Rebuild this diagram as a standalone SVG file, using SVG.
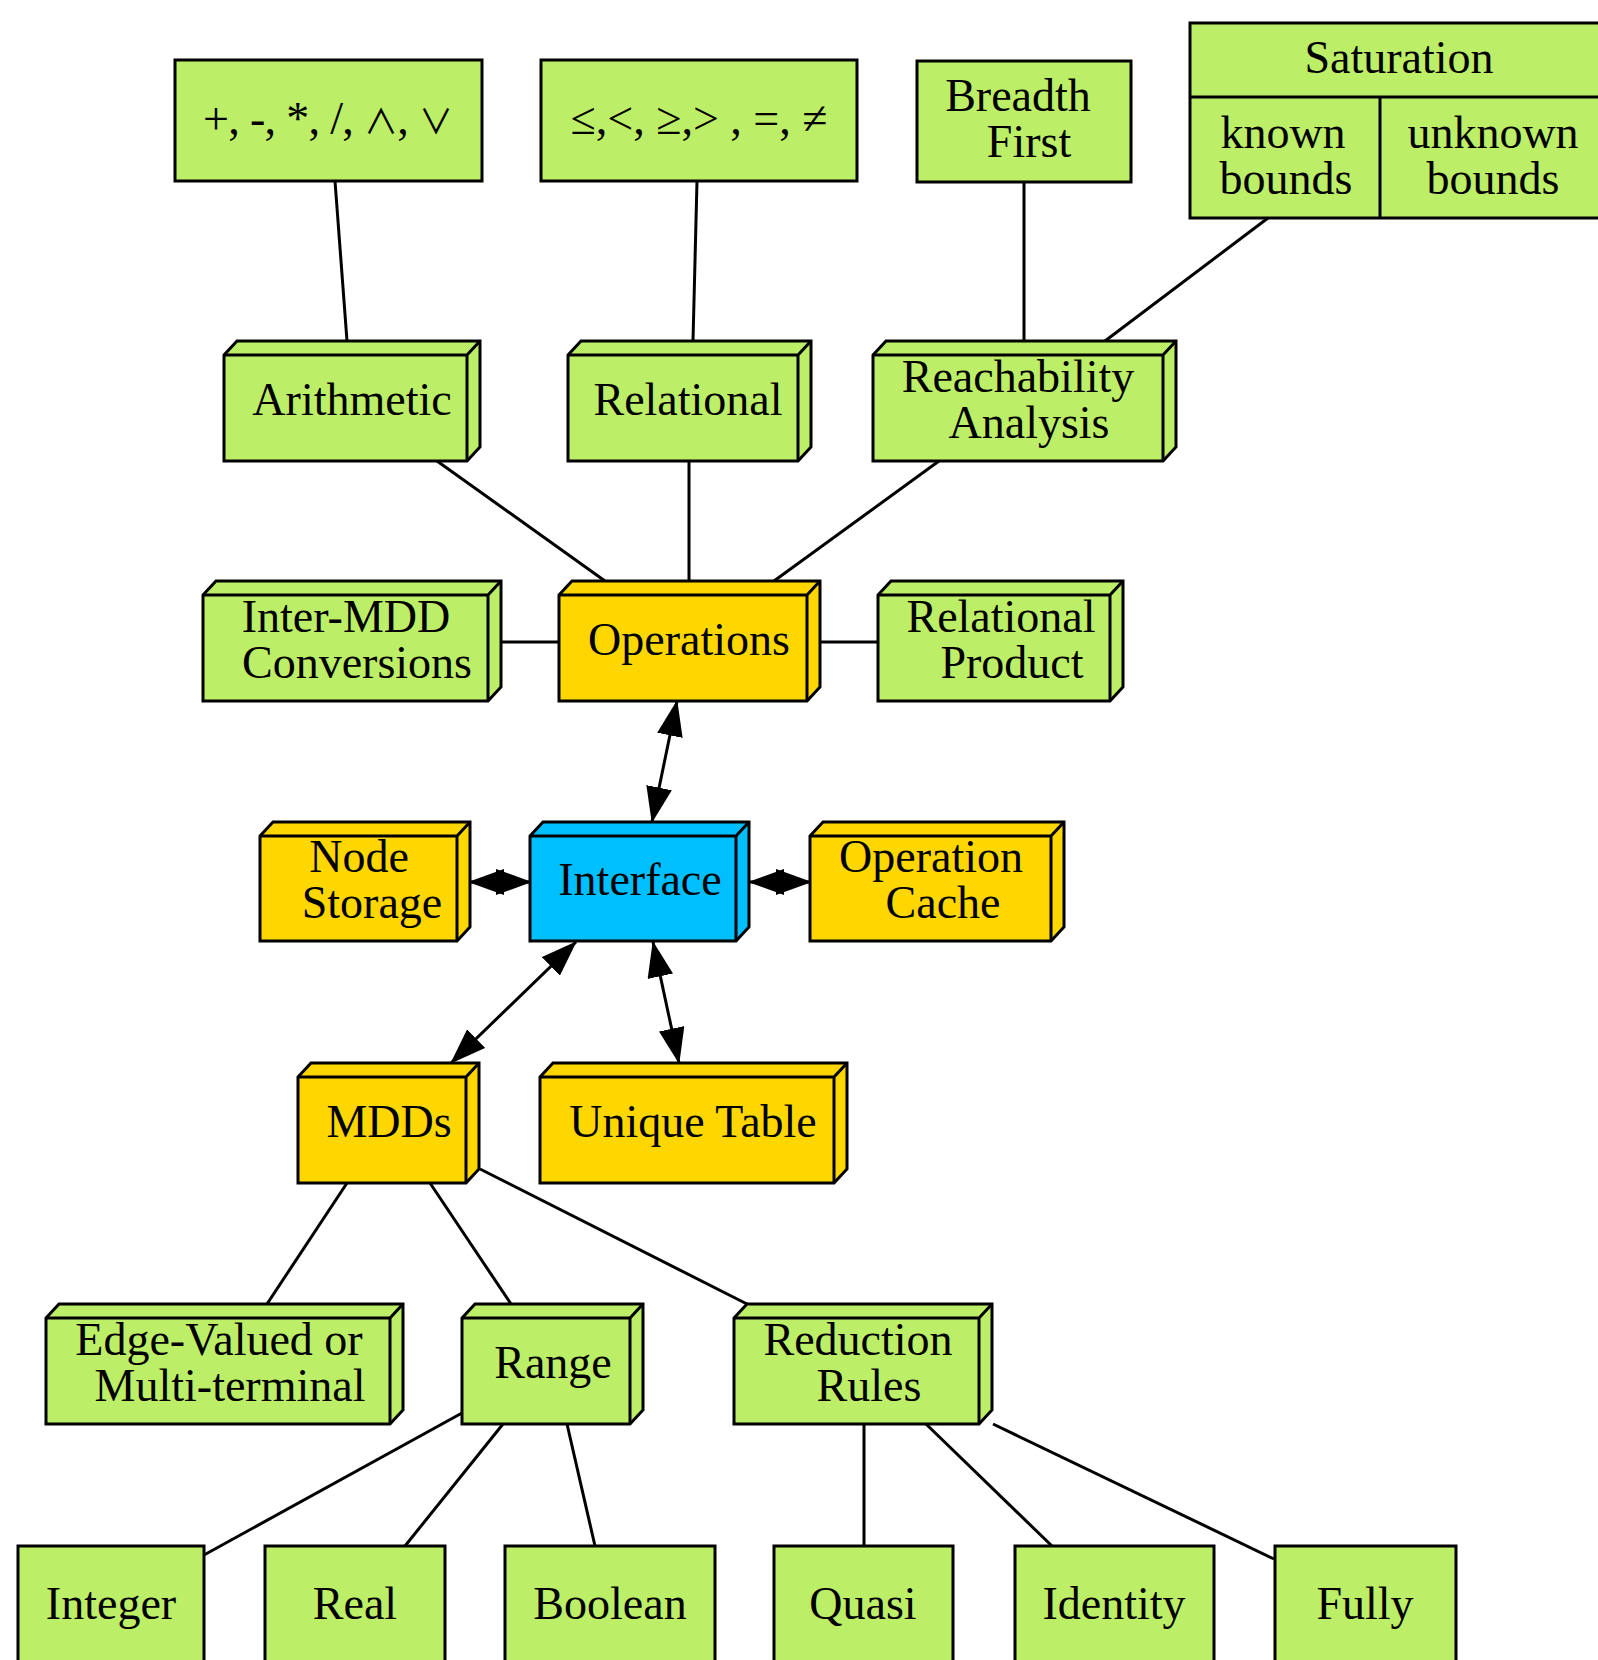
<svg xmlns="http://www.w3.org/2000/svg" width="1598" height="1660" viewBox="0 0 1598 1660">
<style>
.g{fill:#bcee68;stroke:#000;stroke-width:3;stroke-linejoin:miter}
.y{fill:#ffd700;stroke:#000;stroke-width:3;stroke-linejoin:miter}
.b{fill:#00bfff;stroke:#000;stroke-width:3;stroke-linejoin:miter}
.e{fill:none;stroke:#000;stroke-width:3}
.ln{fill:none;stroke:#000;stroke-width:3}
text{font-family:"Liberation Serif","DejaVu Serif",serif;font-size:46px;fill:#000;text-anchor:middle}
.sym{font-family:"Noto Sans CJK JP","DejaVu Sans",sans-serif;font-size:34px}
</style>
<defs>
<marker id="ah" markerUnits="userSpaceOnUse" markerWidth="36" markerHeight="26" refX="35" refY="13" orient="auto-start-reverse" viewBox="0 0 36 26">
<path d="M0,0 L36,13 L0,26 Z" fill="#000"/>
</marker>
</defs>
<rect width="1598" height="1660" fill="#fff"/>

<g id="connectors">
<line class="ln" x1="335" y1="181" x2="347" y2="341"/>
<line class="ln" x1="697" y1="181" x2="693" y2="341"/>
<line class="ln" x1="1024" y1="181" x2="1024" y2="341"/>
<line class="ln" x1="1268" y1="218" x2="1105" y2="341"/>
<line class="ln" x1="437" y1="461" x2="605" y2="581"/>
<line class="ln" x1="689" y1="461" x2="689" y2="581"/>
<line class="ln" x1="939" y1="461" x2="774" y2="581"/>
<line class="ln" x1="501" y1="642" x2="559" y2="642"/>
<line class="ln" x1="820" y1="642" x2="878" y2="642"/>
<line class="ln" x1="677" y1="701" x2="652" y2="822" marker-start="url(#ah)" marker-end="url(#ah)"/>
<line class="ln" x1="469" y1="882" x2="531" y2="882" marker-start="url(#ah)" marker-end="url(#ah)"/>
<line class="ln" x1="749" y1="882" x2="811" y2="882" marker-start="url(#ah)" marker-end="url(#ah)"/>
<line class="ln" x1="576" y1="942" x2="451" y2="1063" marker-start="url(#ah)" marker-end="url(#ah)"/>
<line class="ln" x1="653" y1="942" x2="679" y2="1063" marker-start="url(#ah)" marker-end="url(#ah)"/>
<line class="ln" x1="347" y1="1183" x2="267" y2="1304"/>
<line class="ln" x1="430" y1="1183" x2="511" y2="1304"/>
<line class="ln" x1="480" y1="1169" x2="747" y2="1304"/>
<line class="ln" x1="462" y1="1413" x2="204" y2="1555"/>
<line class="ln" x1="503" y1="1424" x2="405" y2="1546"/>
<line class="ln" x1="567" y1="1424" x2="595" y2="1546"/>
<line class="ln" x1="864" y1="1424" x2="864" y2="1546"/>
<line class="ln" x1="926" y1="1424" x2="1052" y2="1546"/>
<line class="ln" x1="993" y1="1424" x2="1274" y2="1559"/>
</g>

<g id="n_arith_ops">
<rect class="g" x="175" y="60" width="307" height="121"/>
<text x="328" y="134" textLength="250" lengthAdjust="spacing">+, -, *, /, <tspan class="sym">∧</tspan>, <tspan class="sym">∨</tspan></text>
</g>
<g id="n_rel_ops">
<rect class="g" x="541" y="60" width="316" height="121"/>
<text x="699" y="134">≤,&lt;, ≥,&gt; , =, ≠</text>
</g>
<g id="n_breadth">
<rect class="g" x="917" y="61" width="214" height="121"/>
<text x="1018" y="111">Breadth</text>
<text x="1029" y="157">First</text>
</g>
<g id="n_saturation">
<rect class="g" x="1190" y="23" width="412" height="195"/>
<line class="e" x1="1190" y1="97" x2="1602" y2="97"/>
<line class="e" x1="1380" y1="97" x2="1380" y2="218"/>
<text x="1399" y="73">Saturation</text>
<text x="1283" y="148">known</text>
<text x="1286" y="194">bounds</text>
<text x="1493" y="148">unknown</text>
<text x="1493" y="194">bounds</text>
</g>

<g id="n_arithmetic">
<path class="g" d="M224,355 L237,341 L480,341 L480,447 L467,461 L224,461 Z"/>
<path class="e" d="M224,355 L467,355 L480,341 M467,355 L467,461"/>
<text x="352" y="415">Arithmetic</text>
</g>
<g id="n_relational">
<path class="g" d="M568,355 L581,341 L811,341 L811,447 L798,461 L568,461 Z"/>
<path class="e" d="M568,355 L798,355 L811,341 M798,355 L798,461"/>
<text x="688" y="415">Relational</text>
</g>
<g id="n_reach">
<path class="g" d="M873,355 L886,341 L1176,341 L1176,447 L1163,461 L873,461 Z"/>
<path class="e" d="M873,355 L1163,355 L1176,341 M1163,355 L1163,461"/>
<text x="1018" y="392">Reachability</text>
<text x="1029" y="438">Analysis</text>
</g>

<g id="n_intermdd">
<path class="g" d="M203,595 L216,581 L501,581 L501,687 L488,701 L203,701 Z"/>
<path class="e" d="M203,595 L488,595 L501,581 M488,595 L488,701"/>
<text x="346" y="632">Inter-MDD</text>
<text x="357" y="678">Conversions</text>
</g>
<g id="n_operations">
<path class="y" d="M559,595 L572,581 L820,581 L820,687 L807,701 L559,701 Z"/>
<path class="e" d="M559,595 L807,595 L820,581 M807,595 L807,701"/>
<text x="689" y="655">Operations</text>
</g>
<g id="n_relprod">
<path class="g" d="M878,595 L891,581 L1123,581 L1123,687 L1110,701 L878,701 Z"/>
<path class="e" d="M878,595 L1110,595 L1123,581 M1110,595 L1110,701"/>
<text x="1001" y="632">Relational</text>
<text x="1012" y="678">Product</text>
</g>

<g id="n_nodestorage">
<path class="y" d="M260,836 L273,822 L470,822 L470,927 L457,941 L260,941 Z"/>
<path class="e" d="M260,836 L457,836 L470,822 M457,836 L457,941"/>
<text x="359" y="872">Node</text>
<text x="372" y="918">Storage</text>
</g>
<g id="n_interface">
<path class="b" d="M530,836 L543,822 L749,822 L749,927 L736,941 L530,941 Z"/>
<path class="e" d="M530,836 L736,836 L749,822 M736,836 L736,941"/>
<text x="640" y="895">Interface</text>
</g>
<g id="n_opcache">
<path class="y" d="M810,836 L823,822 L1064,822 L1064,927 L1051,941 L810,941 Z"/>
<path class="e" d="M810,836 L1051,836 L1064,822 M1051,836 L1051,941"/>
<text x="931" y="872">Operation</text>
<text x="943" y="918">Cache</text>
</g>

<g id="n_mdds">
<path class="y" d="M298,1077 L311,1063 L479,1063 L479,1169 L466,1183 L298,1183 Z"/>
<path class="e" d="M298,1077 L466,1077 L479,1063 M466,1077 L466,1183"/>
<text x="389" y="1137">MDDs</text>
</g>
<g id="n_unique">
<path class="y" d="M540,1077 L553,1063 L847,1063 L847,1169 L834,1183 L540,1183 Z"/>
<path class="e" d="M540,1077 L834,1077 L847,1063 M834,1077 L834,1183"/>
<text x="693" y="1137">Unique Table</text>
</g>

<g id="n_edgevalued">
<path class="g" d="M46,1318 L59,1304 L403,1304 L403,1410 L390,1424 L46,1424 Z"/>
<path class="e" d="M46,1318 L390,1318 L403,1304 M390,1318 L390,1424"/>
<text x="219" y="1355">Edge-Valued or</text>
<text x="230" y="1401">Multi-terminal</text>
</g>
<g id="n_range">
<path class="g" d="M462,1318 L475,1304 L643,1304 L643,1410 L630,1424 L462,1424 Z"/>
<path class="e" d="M462,1318 L630,1318 L643,1304 M630,1318 L630,1424"/>
<text x="553" y="1378">Range</text>
</g>
<g id="n_reduction">
<path class="g" d="M734,1318 L747,1304 L992,1304 L992,1410 L979,1424 L734,1424 Z"/>
<path class="e" d="M734,1318 L979,1318 L992,1304 M979,1318 L979,1424"/>
<text x="858" y="1355">Reduction</text>
<text x="869" y="1401">Rules</text>
</g>

<g id="n_integer">
<rect class="g" x="18" y="1546" width="186" height="130"/>
<text x="111" y="1619">Integer</text>
</g>
<g id="n_real">
<rect class="g" x="265" y="1546" width="180" height="130"/>
<text x="355" y="1619">Real</text>
</g>
<g id="n_boolean">
<rect class="g" x="505" y="1546" width="210" height="130"/>
<text x="610" y="1619">Boolean</text>
</g>
<g id="n_quasi">
<rect class="g" x="774" y="1546" width="179" height="130"/>
<text x="863" y="1619">Quasi</text>
</g>
<g id="n_identity">
<rect class="g" x="1015" y="1546" width="199" height="130"/>
<text x="1114" y="1619">Identity</text>
</g>
<g id="n_fully">
<rect class="g" x="1275" y="1546" width="181" height="130"/>
<text x="1365" y="1619">Fully</text>
</g>
</svg>
